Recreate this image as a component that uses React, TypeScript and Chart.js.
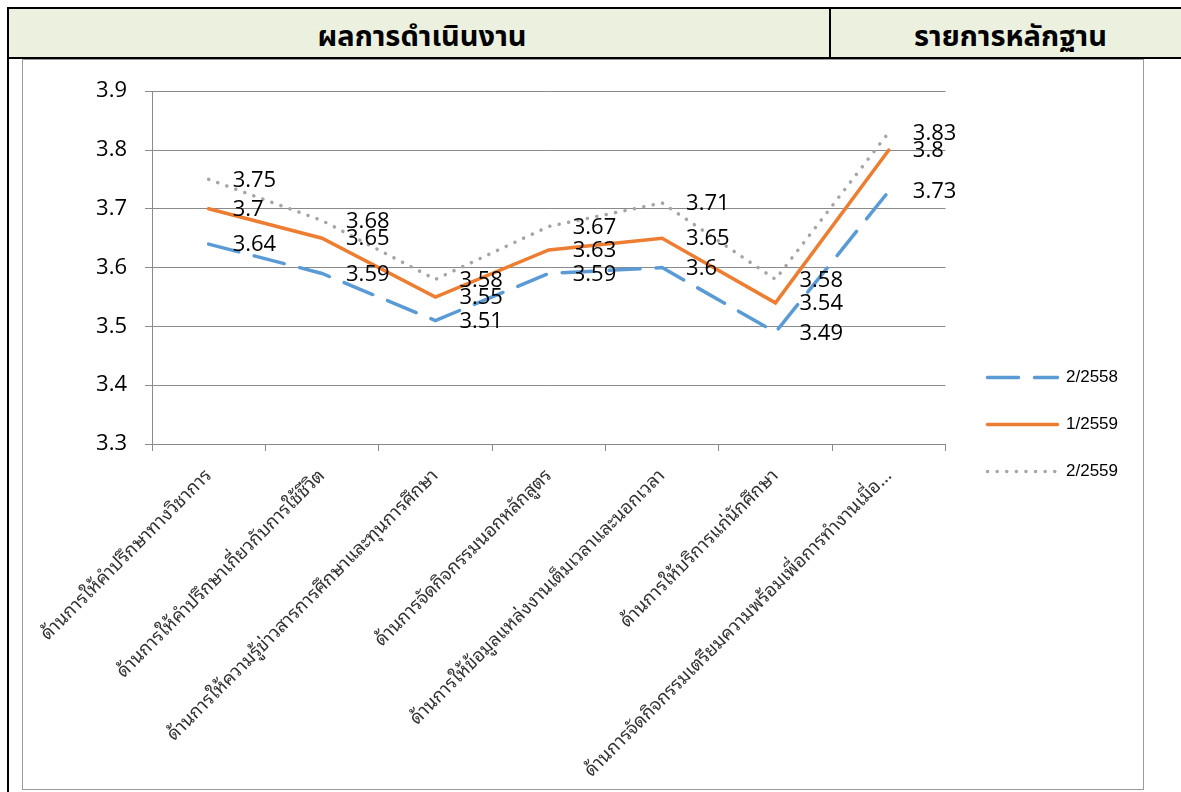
import React, { useEffect, useRef } from "react";
import { Chart, registerables } from "chart.js";

Chart.register(...registerables);

const categories = [
  "ด้านการให้คำปรึกษาทางวิชาการ",
  "ด้านการให้คำปรึกษาเกี่ยวกับการใช้ชีวิต",
  "ด้านการให้ความรู้ข่าวสารการศึกษาและทุนการศึกษา",
  "ด้านการจัดกิจกรรมนอกหลักสูตร",
  "ด้านการให้ข้อมูลแหล่งงานเต็มเวลาและนอกเวลา",
  "ด้านการให้บริการแก่นักศึกษา",
  "ด้านการจัดกิจกรรมเตรียมความพร้อมเพื่อการทำงานเมื่อ...",
];

const seriesNames = ["2/2558", "1/2559", "2/2559"];
const values2558Term2 = [3.64, 3.59, 3.51, 3.59, 3.6, 3.49, 3.73];
const values2559Term1 = [3.7, 3.65, 3.55, 3.63, 3.65, 3.54, 3.8];
const values2559Term2 = [3.75, 3.68, 3.58, 3.67, 3.71, 3.58, 3.83];

const yMin = 3.3;
const yMax = 3.9;
const yStep = 0.1;

const headerLeft = "ผลการดำเนินงาน";
const headerRight = "รายการหลักฐาน";

const THAI_FONT =
  '"Noto Sans Thai Looped", Loma, Garuda, "Noto Sans Thai", "Noto Sans Thai UI", Tahoma, "Noto Sans", "DejaVu Sans", sans-serif';
const HEADER_FONT = '"Noto Sans Thai", "Noto Sans Thai UI", Tahoma, "Noto Sans", "DejaVu Sans", sans-serif';
const NUM_FONT = '"Open Sans", "Liberation Sans", sans-serif';

const valueLabels = {
  id: "valueLabels",
  afterDatasetsDraw(chart: any) {
    const ctx = chart.ctx;
    ctx.save();
    ctx.font = `22px ${NUM_FONT}`;
    ctx.fillStyle = "#000000";
    ctx.textAlign = "left";
    ctx.textBaseline = "middle";
    chart.data.datasets.forEach((ds: any, i: number) => {
      const meta = chart.getDatasetMeta(i);
      meta.data.forEach((pt: any, j: number) => {
        ctx.fillText(String(ds.data[j]), pt.x + 24, pt.y + 1);
      });
    });
    ctx.restore();
  },
};

function LineChart() {
  const ref = useRef<HTMLCanvasElement | null>(null);
  useEffect(() => {
    if (!ref.current) return;
    const chart = new Chart(ref.current, {
      type: "line",
      data: {
        labels: categories,
        datasets: [
          {
            label: seriesNames[0],
            data: values2558Term2,
            borderColor: "#5B9BD5",
            backgroundColor: "#5B9BD5",
            borderWidth: 3.5,
            borderDash: [31, 16],
            borderCapStyle: "round",
            pointRadius: 0,
            tension: 0,
            yAxisID: "y",
          },
          {
            label: seriesNames[1],
            data: values2559Term1,
            borderColor: "#ED7D31",
            backgroundColor: "#ED7D31",
            borderWidth: 3.5,
            borderCapStyle: "round",
            pointRadius: 0,
            tension: 0,
            yAxisID: "y",
          },
          {
            label: seriesNames[2],
            data: values2559Term2,
            borderColor: "#A5A5A5",
            backgroundColor: "#A5A5A5",
            borderWidth: 3.5,
            borderDash: [0.1, 9.5],
            borderCapStyle: "round",
            pointRadius: 0,
            tension: 0,
            yAxisID: "y",
          },
        ],
      },
      options: {
        responsive: false,
        animation: false,
        events: [],
        layout: { padding: { left: 0, right: 15, top: 0, bottom: 0 } },
        plugins: {
          title: {
            display: true,
            text: "",
            fullSize: false,
            padding: { top: 19, bottom: 0 },
            font: { size: 10, lineHeight: 1 },
          },
          legend: {
            position: "right",
            align: "center",
            labels: {
              usePointStyle: true,
              pointStyle: "line",
              pointStyleWidth: 70,
              padding: 30,
              color: "#333333",
              font: { family: '"Liberation Sans", Arial, sans-serif', size: 17 },
              generateLabels: (c: any) =>
                c.data.datasets.map((ds: any, i: number) => ({
                  text: ds.label,
                  fillStyle: ds.borderColor,
                  strokeStyle: ds.borderColor,
                  lineWidth: 3.5,
                  lineDash: ds.borderDash || [],
                  lineCap: "round",
                  pointStyle: "line",
                  datasetIndex: i,
                  hidden: false,
                })),
            },
          },
          tooltip: { enabled: false },
        },
        scales: {
          x: {
            offset: true,
            grid: {
              offset: true,
              drawOnChartArea: false,
              drawTicks: true,
              tickLength: 7,
              color: "#8a8a8a",
            },
            border: { display: true, color: "#8a8a8a" },
            ticks: {
              autoSkip: false,
              minRotation: 45,
              maxRotation: 45,
              padding: 14,
              color: "#333333",
              font: { family: THAI_FONT, size: 18.5 },
            },
            afterFit(scale: any) {
              scale.height = 345;
              scale.paddingLeft = 0;
              scale.paddingRight = 0;
            },
          },
          y: {
            min: yMin,
            max: yMax,
            position: "left",
            grid: { color: "#8a8a8a", tickLength: 7, drawTicks: true },
            border: { display: true, color: "#8a8a8a" },
            ticks: {
              stepSize: yStep,
              padding: 18,
              color: "#000000",
              font: { family: NUM_FONT, size: 22 },
              callback: (v: any) => Number(v).toFixed(1),
            },
            afterFit(scale: any) {
              scale.width = 129;
            },
          },
          y2: {
            position: "right",
            display: true,
            grid: { display: false, drawTicks: false },
            border: { display: false },
            ticks: { display: false },
            afterFit(scale: any) {
              scale.width = 12;
            },
          },
        },
      },
      plugins: [valueLabels],
    } as any);
    return () => chart.destroy();
  }, []);
  return <canvas ref={ref} width={1120} height={729} style={{ display: "block" }} />;
}

export default function App() {
  useEffect(() => {
    document.body.style.overflow = "hidden";
  }, []);
  const abs = (s: React.CSSProperties): React.CSSProperties => ({ position: "absolute", ...s });
  const headerText: React.CSSProperties = {
    height: 48,
    lineHeight: "48px",
    textAlign: "center",
    fontFamily: HEADER_FONT,
    fontWeight: 700,
    fontSize: 29,
    color: "#000",
    whiteSpace: "nowrap",
  };
  return (
    <div>
      <div style={abs({ left: 8, top: 8, width: 1173, height: 50, background: "#EBF1DE" })} />
      <div style={abs({ left: 9, top: 13, width: 826, ...headerText })}>{headerLeft}</div>
      <div style={abs({ left: 840, top: 13, width: 341, ...headerText })}>{headerRight}</div>
      <div style={abs({ left: 7, top: 7, width: 1174, height: 2, background: "#000" })} />
      <div style={abs({ left: 7, top: 57, width: 1174, height: 2, background: "#000" })} />
      <div style={abs({ left: 7, top: 7, width: 2, height: 785, background: "#000" })} />
      <div style={abs({ left: 829, top: 7, width: 2, height: 52, background: "#000" })} />
      <div
        style={abs({
          left: 22,
          top: 59,
          width: 1122,
          height: 731,
          border: "1px solid #9a9a9a",
          boxSizing: "border-box",
          background: "#fff",
        })}
      >
        <LineChart />
      </div>
    </div>
  );
}
